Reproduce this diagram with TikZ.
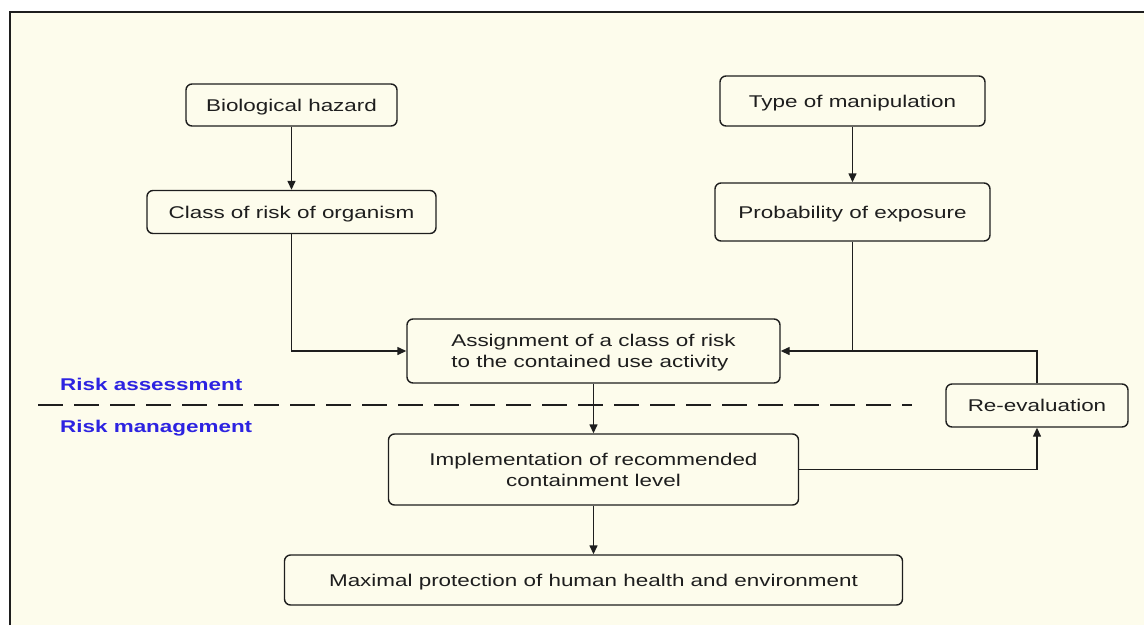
\documentclass[tikz,border=0pt]{standalone}
\usepackage{fontspec}
\setmainfont[FakeStretch=1.32]{Liberation Sans}
\usetikzlibrary{arrows.meta}
\definecolor{bg}{RGB}{253,252,236}
\definecolor{ln}{RGB}{30,30,30}
\definecolor{bl}{RGB}{45,35,225}
\begin{document}
\begin{tikzpicture}[x=1pt,y=-1pt,
 box/.style={draw=ln, line width=1.4pt, rounded corners=6pt, fill=bg, text=ln, inner sep=0pt, font=\fontsize{17}{21}\selectfont},
 one/.style={text height=12.2pt, text depth=0pt},
 arr/.style={draw=ln, line width=1.4pt, -{Triangle[length=9pt,width=8pt]}},
 con/.style={draw=ln, line width=1.4pt},
 lbl/.style={text=bl, font=\fontsize{17}{21}\selectfont\bfseries, anchor=base west, inner sep=0pt}]
\useasboundingbox (0,0) rectangle (1144,625);
\fill[bg] (10,12) rectangle (1144,625);
\draw[ln, line width=1.3pt] (10,625) -- (10,12) -- (1144,12);

\node[box, one, minimum width=211pt, minimum height=42pt] (bio) at (291.5,105) {Biological hazard};
\node[box, one, minimum width=289pt, minimum height=43pt] (cls) at (291.5,212) {Class of risk of organism};
\node[box, one, minimum width=265pt, minimum height=50pt] (typ) at (852.5,101) {Type of manipulation};
\node[box, one, minimum width=275pt, minimum height=58pt] (prob) at (852.5,212) {Probability of exposure};
\node[box, minimum width=373pt, minimum height=64pt, align=left] (asg) at (593.5,351) {\rule{0pt}{16pt}Assignment of a class of risk\\to the contained use activity};
\node[box, minimum width=410pt, minimum height=71pt, align=center] (imp) at (593.5,469.5) {Implementation of recommended\\containment level};
\node[box, one, minimum width=618pt, minimum height=50pt] (max) at (593.5,580) {Maximal protection of human health and environment};
\node[box, one, minimum width=182pt, minimum height=43pt] (rev) at (1037,405.5) {Re-evaluation};

\coordinate (d1) at (38,405);
\coordinate (d2) at (912,405);
\draw[ln, line width=2.2pt, dash pattern=on 25pt off 11pt] (d1) -- (d2);

\node[lbl] (ra) at (60,390) {Risk assessment};
\node[lbl] (rm) at (60,432) {Risk management};

\draw[arr] (bio) -- (cls);
\draw[arr] (typ) -- (prob);
\draw[arr] (cls.south) |- (asg.west);
\coordinate (j) at (prob.south |- asg.east);
\draw[con] (prob.south) -- (j);
\draw[arr] (rev.north) |- (asg.east);
\draw[arr] (asg) -- (imp);
\draw[arr] (imp) -- (max);
\draw[arr] (imp.east) -| (rev.south);
\end{tikzpicture}
\end{document}
